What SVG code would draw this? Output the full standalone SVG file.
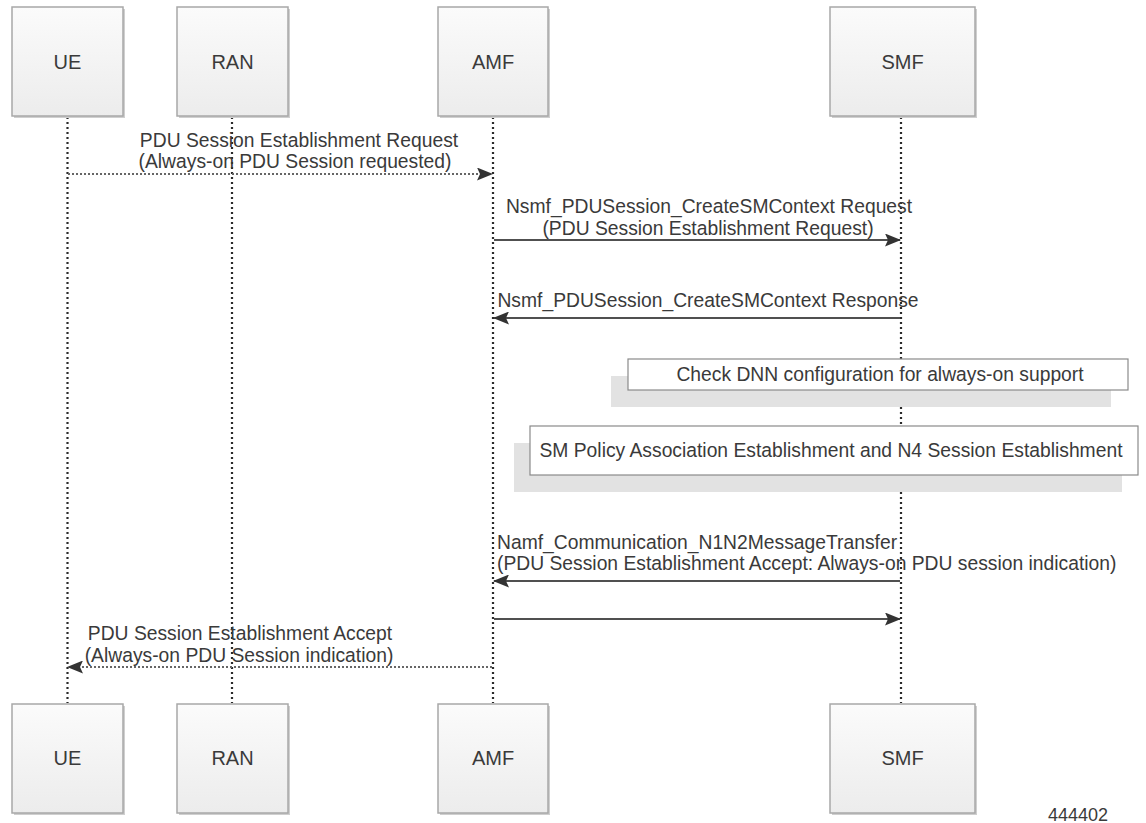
<svg xmlns="http://www.w3.org/2000/svg" width="1146" height="823" viewBox="0 0 1146 823">
<style>
text{font-family:"Liberation Sans",Arial,sans-serif;fill:#3a3a3a}
.lbl{font-size:20px;text-anchor:middle}
.msg{font-size:19.3px}
.mid{text-anchor:middle}
.box{fill:url(#g);stroke:#a8a8a8;stroke-width:1.5}
.bsh{fill:#cfcfcf}
.life{stroke:#2a2a2a;stroke-width:2.2;stroke-dasharray:2 3;fill:none}
.sol{stroke:#505050;stroke-width:2;fill:none}
.dot{stroke:#666;stroke-width:2;stroke-dasharray:2 2;fill:none}
.note{fill:#fff;stroke:#8a8a8a;stroke-width:1.2}
.nsh{fill:#e2e2e2}
</style>
<defs>
<linearGradient id="g" x1="0" y1="0" x2="0" y2="1">
<stop offset="0" stop-color="#fbfbfb"/>
<stop offset="1" stop-color="#ececec"/>
</linearGradient>
<marker id="ah" markerUnits="userSpaceOnUse" markerWidth="17" markerHeight="13" refX="15" refY="6.5" orient="auto">
<polygon points="0,0 16,6.5 0,13 3,6.5" fill="#333"/>
</marker>
</defs>

<g id="lifelines">
<line class="life" x1="67.5" y1="117" x2="67.5" y2="703"/>
<line class="life" x1="232" y1="117" x2="232" y2="703"/>
<line class="life" x1="493" y1="117" x2="493" y2="703"/>
<line class="life" x1="901" y1="117" x2="901" y2="703"/>
</g>

<g id="ue-top"><rect class="bsh" x="14" y="9" width="111" height="109"/><rect class="box" x="12" y="7" width="111" height="109"/><text class="lbl" x="67.5" y="69">UE</text></g>
<g id="ran-top"><rect class="bsh" x="179" y="9" width="111" height="109"/><rect class="box" x="177" y="7" width="111" height="109"/><text class="lbl" x="232.5" y="69">RAN</text></g>
<g id="amf-top"><rect class="bsh" x="440" y="9" width="110" height="109"/><rect class="box" x="438" y="7" width="110" height="109"/><text class="lbl" x="493" y="69">AMF</text></g>
<g id="smf-top"><rect class="bsh" x="832" y="9" width="145" height="109"/><rect class="box" x="830" y="7" width="145" height="109"/><text class="lbl" x="902.5" y="69">SMF</text></g>

<g id="ue-bottom"><rect class="bsh" x="14" y="706" width="111" height="109"/><rect class="box" x="12" y="704" width="111" height="109"/><text class="lbl" x="67.5" y="765">UE</text></g>
<g id="ran-bottom"><rect class="bsh" x="179" y="706" width="111" height="109"/><rect class="box" x="177" y="704" width="111" height="109"/><text class="lbl" x="232.5" y="765">RAN</text></g>
<g id="amf-bottom"><rect class="bsh" x="440" y="706" width="110" height="109"/><rect class="box" x="438" y="704" width="110" height="109"/><text class="lbl" x="493" y="765">AMF</text></g>
<g id="smf-bottom"><rect class="bsh" x="832" y="706" width="145" height="109"/><rect class="box" x="830" y="704" width="145" height="109"/><text class="lbl" x="902.5" y="765">SMF</text></g>

<g id="note-dnn">
<rect class="nsh" x="611" y="376" width="500" height="31"/>
<rect class="note" x="628" y="359" width="500" height="31"/>
<text class="msg mid" x="880" y="381">Check DNN configuration for always-on support</text>
</g>
<g id="note-sm">
<rect class="nsh" x="514" y="443" width="608" height="49"/>
<rect class="note" x="530" y="426" width="608" height="49"/>
<text class="msg mid" x="831" y="457">SM Policy Association Establishment and N4 Session Establishment</text>
</g>

<g id="connectors">
<line class="dot" x1="68" y1="174" x2="492" y2="174" marker-end="url(#ah)"/>
<line class="sol" x1="494" y1="240" x2="900" y2="240" marker-end="url(#ah)"/>
<line class="sol" x1="900" y1="318" x2="494" y2="318" marker-end="url(#ah)"/>
<line class="sol" x1="900" y1="581" x2="494" y2="581" marker-end="url(#ah)"/>
<line class="sol" x1="494" y1="619" x2="900" y2="619" marker-end="url(#ah)"/>
<line class="dot" x1="492" y1="667" x2="68" y2="667" marker-end="url(#ah)"/>
</g>

<g id="labels">
<text class="msg mid" x="299" y="147">PDU Session Establishment Request</text>
<text class="msg mid" x="295" y="168">(Always-on PDU Session requested)</text>
<text class="msg mid" x="709" y="213">Nsmf_PDUSession_CreateSMContext Request</text>
<text class="msg mid" x="708" y="235">(PDU Session Establishment Request)</text>
<text class="msg mid" x="708" y="307">Nsmf_PDUSession_CreateSMContext Response</text>
<text class="msg" x="497" y="549">Namf_Communication_N1N2MessageTransfer</text>
<text class="msg" x="497" y="570">(PDU Session Establishment Accept: Always-on PDU session indication)</text>
<text class="msg mid" x="240" y="640">PDU Session Establishment Accept</text>
<text class="msg mid" x="239" y="662">(Always-on PDU Session indication)</text>
<text x="1048" y="821" style="font-size:18px">444402</text>
</g>
</svg>
